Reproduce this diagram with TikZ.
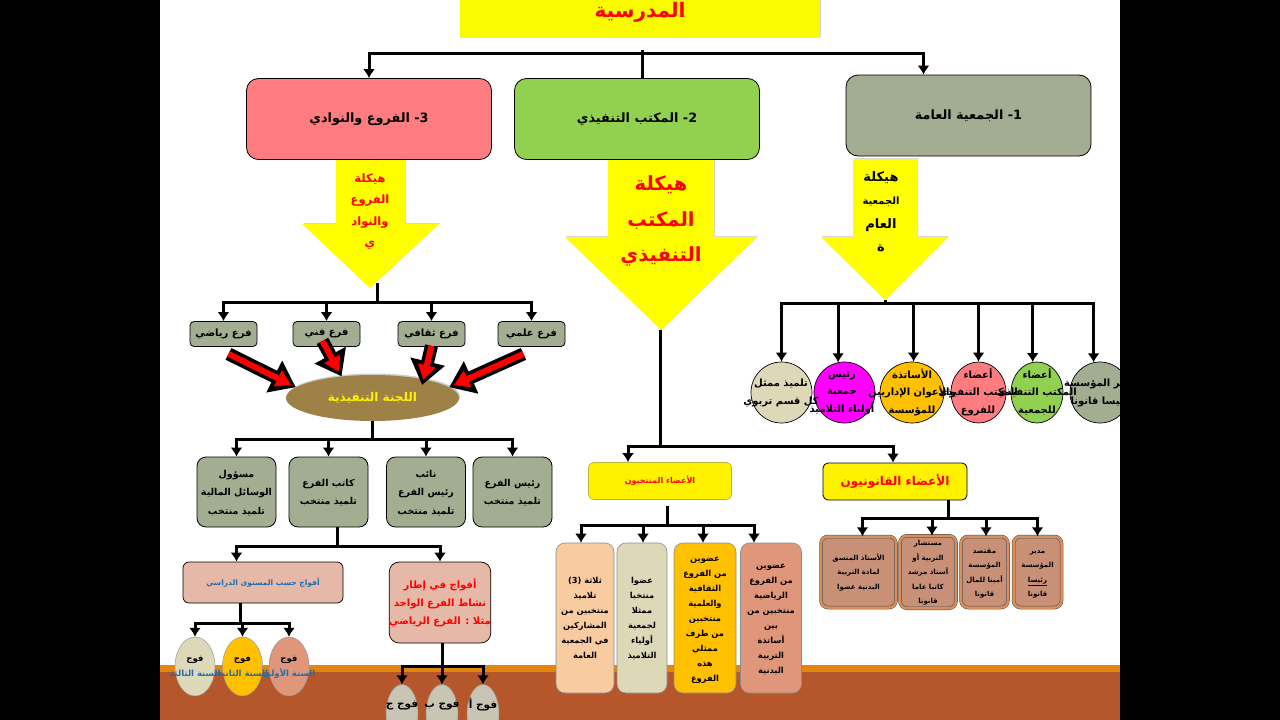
\documentclass[tikz,border=0pt]{standalone}
\usepackage{fontspec}
\usepackage{tikz}
\usetikzlibrary{arrows,arrows.meta,shapes.geometric,shadows}
\TeXXeTstate=1
\newfontfamily\arabicfont[Script=Arabic]{DejaVu Sans}
\newcommand{\arline}[1]{\beginR #1\endR}
\newcommand{\setfs}[2]{\fontsize{#1}{#2}\selectfont}
\definecolor{sage}{HTML}{A2AD91}
\definecolor{leaf}{HTML}{92D050}
\definecolor{rose}{HTML}{FF7C80}
\definecolor{gold}{HTML}{FFC000}
\definecolor{clay}{HTML}{E0967A}
\definecolor{sand}{HTML}{DDD9B8}
\definecolor{peach}{HTML}{F8CBA0}
\definecolor{blush}{HTML}{E6B8A7}
\definecolor{bark}{HTML}{B5562B}
\definecolor{amber}{HTML}{E2860E}
\definecolor{mud}{HTML}{9E8147}
\definecolor{wave}{HTML}{1F6DB0}
\definecolor{tan}{HTML}{C99078}
\definecolor{stone}{HTML}{C9C5B5}
\definecolor{lemon}{HTML}{FAFA00}
\definecolor{pink}{HTML}{FF00FF}
\definecolor{rim}{HTML}{D98F5C}

\begin{document}
\begin{tikzpicture}[
		x=1pt, y=-1pt,
		>={Latex[length=9,width=12]},
		font=\arabicfont\bfseries,
		link/.style={
			line width=3,
			draw=black
		},
		mainbox/.style={
			rectangle,
			rounded corners=12,
			draw=black,
			line width=0.8,
			inner sep=0,
			minimum width=245,
			minimum height=81,
			font=\arabicfont\bfseries\setfs{12.8}{16}
		},
		branch/.style={
			rectangle,
			rounded corners=4,
			draw=black,
			line width=0.8,
			fill=sage,
			inner sep=0,
			minimum width=67,
			minimum height=25,
			font=\arabicfont\bfseries\setfs{10}{12}
		},
		officer/.style={
			rectangle,
			rounded corners=9,
			draw=black,
			line width=0.8,
			fill=sage,
			inner sep=0,
			minimum width=79,
			minimum height=70,
			font=\arabicfont\bfseries\setfs{9.5}{18.5}
		},
		elected/.style={
			rectangle,
			rounded corners=9,
			draw=black!45,
			line width=0.6,
			inner sep=0,
			minimum height=150,
			font=\arabicfont\bfseries\setfs{8.3}{15}
		},
		legal/.style={
			rectangle,
			rounded corners=7,
			draw=black!70,
			line width=0.5,
			double=rim,
			double distance=2.5,
			fill=tan,
			inner sep=0,
			minimum height=71,
			font=\arabicfont\bfseries\setfs{7}{14.5}
		},
		member/.style={
			ellipse,
			draw=black,
			line width=0.7,
			inner sep=0,
			minimum height=61
		},
		membertext/.style={
			font=\arabicfont\bfseries\setfs{10}{17.5},
			inner sep=0
		},
		group/.style={
			ellipse,
			draw=black!40,
			line width=0.5,
			inner sep=0,
			minimum width=40,
			minimum height=59
		},
		grouptext/.style={
			font=\arabicfont\bfseries\setfs{8.5}{15},
			inner sep=0
		},
		bigarrow/.style={
			left color=yellow,
			middle color=yellow!72!white,
			right color=yellow,
			drop shadow={opacity=0.3, shadow xshift=1, shadow yshift=-1}
		},
		arrowtext/.style={
			inner sep=0
		},
		blockback/.style={
			line width=13,
			draw=black,
			-{Triangle[length=24,width=34]}
		},
		blockfront/.style={
			line width=6,
			draw=red,
			shorten >=5,
			-{Triangle[length=15,width=17]}
		}
		]
		\useasboundingbox (0,0) rectangle (1280,720);
		% Page and ground band
		\fill [white] (160,0) rectangle (1120,720);
		\fill [amber] (160,665) rectangle (1120,672);
		\fill [bark] (160,672) rectangle (1120,720);

		% Big arrows under the three boxes
		\path [bigarrow] (853,159) -- (917,159) -- (917,237) -- (948,237) -- (885,300) -- (821,237) -- (853,237) -- cycle;
		\path [bigarrow] (608,159) -- (714,159) -- (714,237) -- (757,237) -- (661,330) -- (565,237) -- (608,237) -- cycle;
		\path [bigarrow] (336,159) -- (405,159) -- (405,224) -- (439,224) -- (370,288) -- (302,224) -- (336,224) -- cycle;

		% We start by placing the top blocks
		\node [rectangle, fill=lemon, inner sep=0, minimum width=360, minimum height=52, text=red,
			font=\arabicfont\bfseries\setfs{20}{24}, drop shadow={opacity=0.35, shadow xshift=1, shadow yshift=-1}] (school) at (640,12)
		{\arline{المدرسية}};

		\node [mainbox, fill=sage] (assembly) at (968.5,115.5) {\arline{1- الجمعية العامة}};
		\node [mainbox, fill=leaf] (bureau) at (637,119) {\arline{2- المكتب التنفيذي}};
		\node [mainbox, fill=rose] (clubs) at (369,119) {\arline{3- الفروع والنوادي}};

		\coordinate (bus0) at (642,53);
		\coordinate (top0) at (642,50);
		\draw [link] (top0) -- ([xshift=5]bureau.north);
		\draw [link,->] (bus0) -| (clubs.north);
		\draw [link,->] (bus0) -| ([xshift=-45]assembly.north);

		% Texts on the big arrows
		\node [arrowtext, font=\arabicfont\bfseries\setfs{13}{23.5}] (assemblytext) at (881,212)
		{%
			\begin{tabular}{@{}c@{}}
			\arline{هيكلة}\\
			\arline{\setfs{10}{23.5}الجمعية}\\
			\arline{العام}\\
			\arline{ة}
			\end{tabular}
		};
		\node [arrowtext, text=red, font=\arabicfont\bfseries\setfs{19.5}{35.5}] (bureautext) at (661,219)
		{%
			\begin{tabular}{@{}c@{}}
			\arline{هيكلة}\\
			\arline{المكتب}\\
			\arline{التنفيذي}
			\end{tabular}
		};
		\node [arrowtext, text=red, font=\arabicfont\bfseries\setfs{11.5}{21.5}] (clubstext) at (370,210)
		{%
			\begin{tabular}{@{}c@{}}
			\arline{هيكلة}\\
			\arline{الفروع}\\
			\arline{والنواد}\\
			\arline{ي}
			\end{tabular}
		};

		% Members of the assembly
		\node [member, fill=sand, minimum width=61] (m1) at (781.5,392.5) {};
		\node [member, fill=pink, minimum width=61] (m2) at (844.5,392.5) {};
		\node [member, fill=gold, minimum width=64] (m3) at (912,392.5) {};
		\node [member, fill=rose, minimum width=55] (m4) at (978.5,392.5) {};
		\node [member, fill=leaf, minimum width=52] (m5) at (1037,392.5) {};
		\node [member, fill=sage, minimum width=60] (m6) at (1100,392.5) {};

		\node [membertext] (m6text) at (1100,392)
		{%
			\begin{tabular}{@{}c@{}}
			\arline{مدير المؤسسة}\\
			\arline{رئيسا قانونا}
			\end{tabular}
		};
		\node [membertext] (m5text) at (1037,392)
		{%
			\begin{tabular}{@{}c@{}}
			\arline{أعضاء}\\
			\arline{المكتب التنفيذي}\\
			\arline{للجمعية}
			\end{tabular}
		};
		\node [membertext] (m4text) at (978,392)
		{%
			\begin{tabular}{@{}c@{}}
			\arline{أعضاء}\\
			\arline{المكتب التنفيذي}\\
			\arline{للفروع}
			\end{tabular}
		};
		\node [membertext] (m3text) at (912,392)
		{%
			\begin{tabular}{@{}c@{}}
			\arline{الأساتذة}\\
			\arline{والأعوان الإداريين}\\
			\arline{للمؤسسة}
			\end{tabular}
		};
		\node [membertext] (m1text) at (781,392)
		{%
			\begin{tabular}{@{}c@{}}
			\arline{تلميذ ممثل}\\
			\arline{كل قسم تربوي}
			\end{tabular}
		};
		\node [membertext] (m2text) at (842,391)
		{%
			\begin{tabular}{@{}c@{}}
			\arline{رئيس}\\
			\arline{جمعية}\\
			\arline{أولياء التلاميذ}
			\end{tabular}
		};

		\coordinate (tip1) at (885,300);
		\coordinate (bus1) at (885,303);
		\draw [link] (tip1) -- (bus1);
		\foreach \target in {m1.north, m2.102, m3.87, m4.north, m5.98, m6.102}
			\draw [link,->] (bus1) -| (\target);

		% Branches and their committee
		\node [branch] (math) at (223.5,334) {\arline{فرع رياضي}};
		\node [branch] (art) at (326.5,334) {\arline{فرع فني}};
		\node [branch] (culture) at (431.5,334) {\arline{فرع ثقافي}};
		\node [branch] (science) at (531.5,334) {\arline{فرع علمي}};

		\coordinate (tip3) at (377,283);
		\coordinate (bus3) at (377,302);
		\draw [link] (tip3) -- (bus3);
		\foreach \target in {math, art, culture, science}
			\draw [link,->] (bus3) -| (\target.north);

		\node [ellipse, fill=mud, inner sep=0, minimum width=173, minimum height=46, text=yellow,
			font=\arabicfont\bfseries\setfs{12}{14}, drop shadow={opacity=0.4, shadow xshift=1, shadow yshift=-1.5}] (committee) at (372.5,398)
		{\arline{اللجنة التنفيذية}};

		\draw [blockback] ([shift={(5,7)}]math.south) -- (committee.172);
		\draw [blockfront] ([shift={(5,7)}]math.south) -- (committee.172);
		\draw [blockback] ([shift={(-4,-6)}]art.south) -- (committee.145);
		\draw [blockfront] ([shift={(-4,-6)}]art.south) -- (committee.145);
		\draw [blockback] ([shift={(0,-1)}]culture.south) -- ([shift={(0,6)}]committee.21);
		\draw [blockfront] ([shift={(0,-1)}]culture.south) -- ([shift={(0,6)}]committee.21);
		\draw [blockback] ([shift={(-8,7)}]science.south) -- (committee.8);
		\draw [blockfront] ([shift={(-8,7)}]science.south) -- (committee.8);

		% Officers of a branch
		\node [officer] (treasurer) at (236.5,492) 
		{%
			\begin{tabular}{@{}c@{}}
			\arline{مسؤول}\\
			\arline{الوسائل المالية}\\
			\arline{تلميذ منتخب}
			\end{tabular}
		};
		\node [officer] (secretary) at (328.5,492) 
		{%
			\begin{tabular}{@{}c@{}}
			\arline{كاتب الفرع}\\
			\arline{تلميذ منتخب}
			\end{tabular}
		};
		\node [officer] (deputy) at (426,492) 
		{%
			\begin{tabular}{@{}c@{}}
			\arline{نائب}\\
			\arline{رئيس الفرع}\\
			\arline{تلميذ منتخب}
			\end{tabular}
		};
		\node [officer] (head) at (512.5,492) 
		{%
			\begin{tabular}{@{}c@{}}
			\arline{رئيس الفرع}\\
			\arline{تلميذ منتخب}
			\end{tabular}
		};

		\coordinate (bus4) at (372.5,439);
		\draw [link] (committee.south) -- (bus4);
		\foreach \target in {treasurer, secretary, deputy, head}
			\draw [link,->] (bus4) -| (\target.north);

		% Groups under the secretary
		\node [rectangle, rounded corners=6, draw=black, line width=0.7, fill=blush, inner sep=0, minimum width=160, minimum height=41,
			text=wave, font=\arabicfont\bfseries\setfs{7.5}{9}] (levels) at (263,582.5)
		{\arline{أفواج حسب المستوى الدراسي}};
		\node [rectangle, rounded corners=10, draw=black, line width=0.7, fill=blush, inner sep=0, minimum width=98, minimum height=81,
			text=red, font=\arabicfont\bfseries\setfs{10}{18}] (activity) at (440,602.5)
		{%
			\begin{tabular}{@{}c@{}}
			\arline{أفواج في إطار}\\
			\arline{نشاط الفرع الواحد}\\
			\arline{مثلا : الفرع الرياضي}
			\end{tabular}
		};

		\coordinate (bus5) at (337,546);
		\draw [link] (secretary.south -| bus5) -- (bus5);
		\draw [link,->] (bus5) -| (levels.north -| treasurer);
		\draw [link,->] (bus5) -| (activity.north);

		\node [group, fill=sand] (g3) at (195,666.5) {};
		\node [group, fill=gold] (g2) at (242.5,666.5) {};
		\node [group, fill=clay] (g1) at (289,666.5) {};
		\node [grouptext] (g3text) at (195,665.5)
		{%
			\begin{tabular}{@{}c@{}}
			\arline{فوج}\\
			\textcolor{wave}{\arline{السنة الثالثة}}
			\end{tabular}
		};
		\node [grouptext] (g2text) at (242.5,665.5)
		{%
			\begin{tabular}{@{}c@{}}
			\arline{فوج}\\
			\textcolor{wave}{\arline{السنة الثانية}}
			\end{tabular}
		};
		\node [grouptext] (g1text) at (289,665.5)
		{%
			\begin{tabular}{@{}c@{}}
			\arline{فوج}\\
			\textcolor{wave}{\arline{السنة الأولى}}
			\end{tabular}
		};

		\coordinate (bus6) at (240,623);
		\draw [link] (levels.south -| bus6) -- (bus6);
		\foreach \target in {g3, g2, g1}
			\draw [link,->] (bus6) -| (\target.north);

		\node [group, fill=stone, minimum width=32] (c3) at (402,714) {};
		\node [group, fill=stone, minimum width=32] (c2) at (442,714) {};
		\node [group, fill=stone, minimum width=32] (c1) at (483,714) {};
		\node [grouptext, font=\arabicfont\bfseries\setfs{10.5}{12}] (c3text) at (402,705) {\arline{فوج ج}};
		\node [grouptext, font=\arabicfont\bfseries\setfs{10.5}{12}] (c2text) at (442,705) {\arline{فوج ب}};
		\node [grouptext, font=\arabicfont\bfseries\setfs{10.5}{12}] (c1text) at (483,705) {\arline{فوج أ}};

		\coordinate (bus7) at (442,666);
		\draw [link] (activity.south -| bus7) -- (bus7);
		\foreach \target in {c3, c2, c1}
			\draw [link,->] (bus7) -| (\target.north);

		% Members of the bureau
		\node [rectangle, rounded corners=5, draw=black!30!yellow, line width=0.7, fill=yellow, inner sep=0, minimum width=143, minimum height=37,
			text=red, font=\arabicfont\bfseries\setfs{8}{10}] (voted) at (660,481)
		{\arline{الأعضاء المنتخبون}};
		\node [rectangle, rounded corners=5, draw=black, line width=0.8, fill=yellow, inner sep=0, minimum width=144, minimum height=37,
			text=red, font=\arabicfont\bfseries\setfs{12}{14}] (lawful) at (895,481.5)
		{\arline{الأعضاء القانونيون}};

		\coordinate (tip2) at (660,330);
		\coordinate (bus2) at (660,446);
		\draw [link] (tip2) -- (bus2);
		\draw [link,->] (bus2) -| ([xshift=-32]voted.north);
		\draw [link,->] (bus2) -| ([xshift=-2]lawful.north);

		\node [elected, fill=peach, minimum width=58] (e1) at (585,618)
		{%
			\begin{tabular}{@{}c@{}}
			\arline{ثلاثة (3)}\\
			\arline{تلاميذ}\\
			\arline{منتخبين من}\\
			\arline{المشاركين}\\
			\arline{في الجمعية}\\
			\arline{العامة}
			\end{tabular}
		};
		\node [elected, fill=sand, minimum width=50] (e2) at (642,618)
		{%
			\begin{tabular}{@{}c@{}}
			\arline{عضوا}\\
			\arline{منتخبا}\\
			\arline{ممثلا}\\
			\arline{لجمعية}\\
			\arline{أولياء}\\
			\arline{التلاميذ}
			\end{tabular}
		};
		\node [elected, fill=gold, minimum width=62] (e3) at (705,618)
		{%
			\begin{tabular}{@{}c@{}}
			\arline{عضوين}\\
			\arline{من الفروع}\\
			\arline{الثقافية}\\
			\arline{والعلمية}\\
			\arline{منتخبين}\\
			\arline{من طرف}\\
			\arline{ممثلي}\\
			\arline{هذه}\\
			\arline{الفروع}
			\end{tabular}
		};
		\node [elected, fill=clay, minimum width=61] (e4) at (771,618)
		{%
			\begin{tabular}{@{}c@{}}
			\arline{عضوين}\\
			\arline{من الفروع}\\
			\arline{الرياضية}\\
			\arline{منتخبين من}\\
			\arline{بين}\\
			\arline{أساتذة}\\
			\arline{التربية}\\
			\arline{البدنية}
			\end{tabular}
		};

		\coordinate (top8) at (667,506);
		\coordinate (bus8) at (667,525);
		\draw [link] (top8) -- (bus8);
		\draw [link,->] (bus8) -| ([xshift=-4]e1.north);
		\draw [link,->] (bus8) -| ([xshift=1]e2.north);
		\draw [link,->] (bus8) -| ([xshift=-2]e3.north);
		\draw [link,->] (bus8) -| ([xshift=-17]e4.north);

		\node [legal, minimum width=75] (l1) at (858.5,572)
		{%
			\begin{tabular}{@{}c@{}}
			\arline{الأستاذ المنسق}\\
			\arline{لمادة التربية}\\
			\arline{البدنية عضوا}
			\end{tabular}
		};
		\node [legal, minimum width=56] (l2) at (928,572)
		{%
			\begin{tabular}{@{}c@{}}
			\arline{مستشار}\\
			\arline{التربية أو}\\
			\arline{أستاذ مرشد}\\
			\arline{كاتبا عاما}\\
			\arline{قانونا}
			\end{tabular}
		};
		\node [legal, minimum width=47] (l3) at (984.5,572)
		{%
			\begin{tabular}{@{}c@{}}
			\arline{مقتصد}\\
			\arline{المؤسسة}\\
			\arline{أمينا للمال}\\
			\arline{قانونا}
			\end{tabular}
		};
		\node [legal, minimum width=48] (l4) at (1037.5,572)
		{%
			\begin{tabular}{@{}c@{}}
			\arline{مدير}\\
			\arline{المؤسسة}\\
			\underline{\arline{رئيسا}}\\
			\arline{قانونا}
			\end{tabular}
		};

		\coordinate (bus9) at (948,518);
		\draw [link] (lawful.south -| bus9) -- (bus9);
		\draw [link,->] (bus9) -| ([xshift=4]l1.north);
		\draw [link,->] (bus9) -| ([xshift=4]l2.north);
		\draw [link,->] (bus9) -| ([xshift=1.5]l3.north);
		\draw [link,->] (bus9) -| (l4.north);

		% Dark side bars, drawn last so that they cut the overflowing text
		\fill [black] (0,0) rectangle (160,720);
		\fill [black] (1120,0) rectangle (1280,720);
		\end{tikzpicture}
\end{document}
